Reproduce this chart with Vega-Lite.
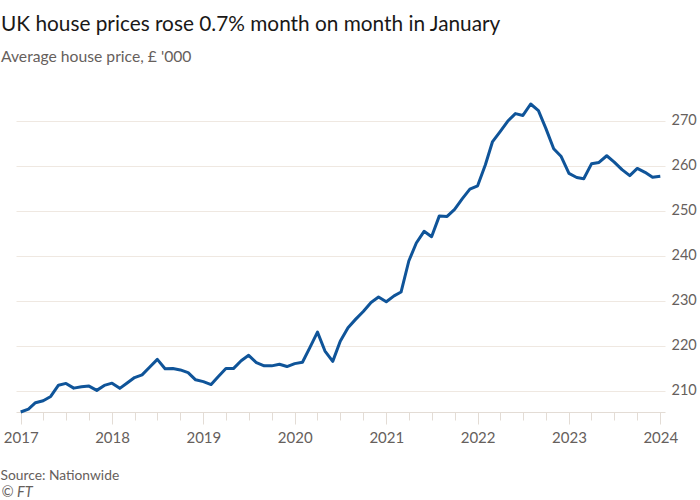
{
  "$schema": "https://vega.github.io/schema/vega-lite/v6.json",
  "autosize": {"type": "none"},
  "width": 649,
  "height": 308,
  "padding": {"left": 16, "top": 104, "right": 35, "bottom": 88},
  "background": "#ffffff",
  "config": {
    "font": "Lato",
    "view": {"stroke": null}
  },
  "title": {
    "text": "UK house prices rose 0.7% month on month in January",
    "subtitle": "Average house price, £ '000",
    "anchor": "start",
    "frame": "group",
    "dx": -15,
    "offset": 37,
    "fontSize": 20.8,
    "fontWeight": "normal",
    "color": "#1a1817",
    "subtitleFontSize": 15.7,
    "subtitleColor": "#66605c",
    "subtitlePadding": 14
  },
  "data": {
    "values": [
      {"date": "2017-01-01", "price": 205.24}, {"date": "2017-02-01", "price": 205.9}, {"date": "2017-03-01", "price": 207.3},
      {"date": "2017-04-01", "price": 207.75}, {"date": "2017-05-01", "price": 208.7}, {"date": "2017-06-01", "price": 211.2},
      {"date": "2017-07-01", "price": 211.6}, {"date": "2017-08-01", "price": 210.55}, {"date": "2017-09-01", "price": 210.85},
      {"date": "2017-10-01", "price": 211.0}, {"date": "2017-11-01", "price": 210.05}, {"date": "2017-12-01", "price": 211.15},
      {"date": "2018-01-01", "price": 211.65}, {"date": "2018-02-01", "price": 210.5}, {"date": "2018-03-01", "price": 211.65},
      {"date": "2018-04-01", "price": 212.9}, {"date": "2018-05-01", "price": 213.5}, {"date": "2018-06-01", "price": 215.25},
      {"date": "2018-07-01", "price": 216.95}, {"date": "2018-08-01", "price": 214.85}, {"date": "2018-09-01", "price": 214.9},
      {"date": "2018-10-01", "price": 214.6}, {"date": "2018-11-01", "price": 214.0}, {"date": "2018-12-01", "price": 212.4},
      {"date": "2019-01-01", "price": 212.0}, {"date": "2019-02-01", "price": 211.35}, {"date": "2019-03-01", "price": 213.1},
      {"date": "2019-04-01", "price": 214.9}, {"date": "2019-05-01", "price": 214.9}, {"date": "2019-06-01", "price": 216.65},
      {"date": "2019-07-01", "price": 217.85}, {"date": "2019-08-01", "price": 216.2}, {"date": "2019-09-01", "price": 215.5},
      {"date": "2019-10-01", "price": 215.5}, {"date": "2019-11-01", "price": 215.85}, {"date": "2019-12-01", "price": 215.35},
      {"date": "2020-01-01", "price": 216.0}, {"date": "2020-02-01", "price": 216.3}, {"date": "2020-03-01", "price": 219.5},
      {"date": "2020-04-01", "price": 223.0}, {"date": "2020-05-01", "price": 218.8}, {"date": "2020-06-01", "price": 216.5},
      {"date": "2020-07-01", "price": 221.0}, {"date": "2020-08-01", "price": 224.0}, {"date": "2020-09-01", "price": 225.9},
      {"date": "2020-10-01", "price": 227.6}, {"date": "2020-11-01", "price": 229.6}, {"date": "2020-12-01", "price": 230.8},
      {"date": "2021-01-01", "price": 229.75}, {"date": "2021-02-01", "price": 231.07}, {"date": "2021-03-01", "price": 231.92},
      {"date": "2021-04-01", "price": 238.83}, {"date": "2021-05-01", "price": 242.83}, {"date": "2021-06-01", "price": 245.43},
      {"date": "2021-07-01", "price": 244.23}, {"date": "2021-08-01", "price": 248.86}, {"date": "2021-09-01", "price": 248.74},
      {"date": "2021-10-01", "price": 250.31}, {"date": "2021-11-01", "price": 252.69}, {"date": "2021-12-01", "price": 254.82},
      {"date": "2022-01-01", "price": 255.56}, {"date": "2022-02-01", "price": 260.23}, {"date": "2022-03-01", "price": 265.31},
      {"date": "2022-04-01", "price": 267.62}, {"date": "2022-05-01", "price": 269.91}, {"date": "2022-06-01", "price": 271.61},
      {"date": "2022-07-01", "price": 271.21}, {"date": "2022-08-01", "price": 273.75}, {"date": "2022-09-01", "price": 272.26},
      {"date": "2022-10-01", "price": 268.28}, {"date": "2022-11-01", "price": 263.79}, {"date": "2022-12-01", "price": 262.07},
      {"date": "2023-01-01", "price": 258.3}, {"date": "2023-02-01", "price": 257.41}, {"date": "2023-03-01", "price": 257.12},
      {"date": "2023-04-01", "price": 260.44}, {"date": "2023-05-01", "price": 260.74}, {"date": "2023-06-01", "price": 262.24},
      {"date": "2023-07-01", "price": 260.83}, {"date": "2023-08-01", "price": 259.15}, {"date": "2023-09-01", "price": 257.81},
      {"date": "2023-10-01", "price": 259.42}, {"date": "2023-11-01", "price": 258.56}, {"date": "2023-12-01", "price": 257.44},
      {"date": "2024-01-01", "price": 257.66}
    ]
  },
  "resolve": {"axis": {"x": "independent"}},
  "layer": [
    {
      "mark": {"type": "line", "opacity": 0},
      "encoding": {
        "x": {
          "field": "date",
          "type": "temporal",
          "scale": {"type": "utc", "nice": false, "padding": 4.7},
          "axis": {
            "orient": "bottom",
            "values": [
              {"year": 2017, "month": 4, "date": 1, "utc": true}, {"year": 2017, "month": 7, "date": 1, "utc": true}, {"year": 2017, "month": 10, "date": 1, "utc": true},
              {"year": 2018, "month": 4, "date": 1, "utc": true}, {"year": 2018, "month": 7, "date": 1, "utc": true}, {"year": 2018, "month": 10, "date": 1, "utc": true},
              {"year": 2019, "month": 4, "date": 1, "utc": true}, {"year": 2019, "month": 7, "date": 1, "utc": true}, {"year": 2019, "month": 10, "date": 1, "utc": true},
              {"year": 2020, "month": 4, "date": 1, "utc": true}, {"year": 2020, "month": 7, "date": 1, "utc": true}, {"year": 2020, "month": 10, "date": 1, "utc": true},
              {"year": 2021, "month": 4, "date": 1, "utc": true}, {"year": 2021, "month": 7, "date": 1, "utc": true}, {"year": 2021, "month": 10, "date": 1, "utc": true},
              {"year": 2022, "month": 4, "date": 1, "utc": true}, {"year": 2022, "month": 7, "date": 1, "utc": true}, {"year": 2022, "month": 10, "date": 1, "utc": true},
              {"year": 2023, "month": 4, "date": 1, "utc": true}, {"year": 2023, "month": 7, "date": 1, "utc": true}, {"year": 2023, "month": 10, "date": 1, "utc": true}
            ],
            "labels": false,
            "grid": false,
            "domain": false,
            "ticks": true,
            "tickSize": 8,
            "tickColor": "#e3dcd5",
            "tickWidth": 1,
            "title": "© FT",
            "titleFontStyle": "italic",
            "titleFontWeight": "normal",
            "titleFontSize": 14.5,
            "titleColor": "#66605c",
            "titleAnchor": "start",
            "titleAlign": "left",
            "titleBaseline": "middle",
            "titleX": -15,
            "titleY": 80
          }
        },
        "y": {"field": "price", "type": "quantitative"}
      }
    },
    {
      "mark": {"type": "line", "color": "#0f5499", "strokeWidth": 3, "strokeJoin": "round", "strokeCap": "butt"},
      "encoding": {
        "x": {
          "field": "date",
          "type": "temporal",
          "axis": {
            "orient": "bottom",
            "values": [
              {"year": 2017, "month": 1, "date": 1, "utc": true}, {"year": 2018, "month": 1, "date": 1, "utc": true},
              {"year": 2019, "month": 1, "date": 1, "utc": true}, {"year": 2020, "month": 1, "date": 1, "utc": true},
              {"year": 2021, "month": 1, "date": 1, "utc": true}, {"year": 2022, "month": 1, "date": 1, "utc": true},
              {"year": 2023, "month": 1, "date": 1, "utc": true}, {"year": 2024, "month": 1, "date": 1, "utc": true}
            ],
            "format": "%Y",
            "formatType": "utc",
            "grid": false,
            "domain": true,
            "domainColor": "#e3dcd5",
            "domainWidth": 1,
            "ticks": true,
            "tickSize": 12,
            "tickColor": "#e3dcd5",
            "tickWidth": 1,
            "labelFontSize": 15,
            "labelColor": "#66605c",
            "labelPadding": 6,
            "labelAlign": "center",
            "labelFlush": false,
            "labelOverlap": false,
            "title": "Source: Nationwide",
            "titleFontWeight": "normal",
            "titleFontSize": 13.8,
            "titleColor": "#66605c",
            "titleAnchor": "start",
            "titleAlign": "left",
            "titleBaseline": "middle",
            "titleX": -16,
            "titleY": 63
          }
        },
        "y": {
          "field": "price",
          "type": "quantitative",
          "scale": {"zero": false, "nice": false},
          "axis": {
            "orient": "right",
            "values": [210, 220, 230, 240, 250, 260, 270],
            "grid": true,
            "gridColor": "#efe8e1",
            "gridWidth": 1,
            "domain": false,
            "ticks": false,
            "labelFontSize": 14.5,
            "labelColor": "#66605c",
            "labelPadding": 6,
            "title": null
          }
        }
      }
    }
  ]
}
